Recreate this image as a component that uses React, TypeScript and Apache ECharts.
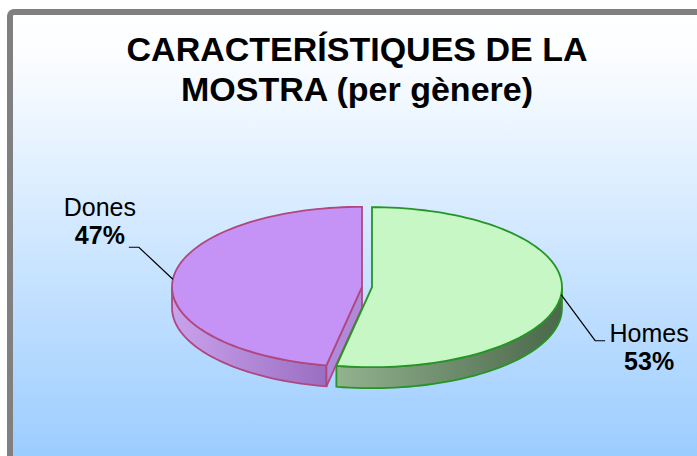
import React, { useEffect, useRef } from "react";
import * as echarts from "echarts";

// ---- data ----
const categories = ["Homes", "Dones"];
const values = [53, 47];
const titleLines = ["CARACTERÍSTIQUES DE LA", "MOSTRA (per gènere)"];

// ---- layout / style ----
const W = 697;
const H = 456;
const CX = 367;
const CY = 287;
const RX = 190;
const RY = 80;
const DEPTH = 21;
const EXPLODE = 5;
const FONT = '"Liberation Sans", Arial, sans-serif';

const topFill = ["#c6f7c4", "#c593f5"];
const edgeColor = ["#269426", "#b04880"];
const wallGrad = [
  ["#93b28e", "#4a684a"],
  ["#c9a2ec", "#9a6ec2"],
];
const faceFill = ["#8fae8a", "#b189da"];

const rad = (d: number) => (d * Math.PI) / 180;
function pt(theta: number, ox: number, oy: number, dz = 0): number[] {
  return [CX + ox + RX * Math.sin(rad(theta)), CY + oy - RY * Math.cos(rad(theta)) + dz];
}
function arc(a: number, b: number, ox: number, oy: number, dz: number): number[][] {
  const n = Math.max(2, Math.ceil((b - a) / 2));
  const pts: number[][] = [];
  for (let i = 0; i <= n; i++) pts.push(pt(a + ((b - a) * i) / n, ox, oy, dz));
  return pts;
}

const total = values.reduce((s, v) => s + v, 0);

function renderItem(params: any) {
  const i = params.dataIndex;
  let start = 0;
  for (let j = 0; j < i; j++) start += (values[j] / total) * 360;
  const end = start + (values[i] / total) * 360;
  const mid = (start + end) / 2;
  const ox = EXPLODE * Math.sin(rad(mid));
  const oy = -EXPLODE * Math.cos(rad(mid)) * (RY / RX);
  const c = [CX + ox, CY + oy];
  const children: any[] = [];

  // outer wall (front half only)
  const a = Math.max(start, 90);
  const b = Math.min(end, 270);
  if (b > a) {
    const topArc = arc(a, b, ox, oy, 0);
    const botArc = arc(a, b, ox, oy, DEPTH).reverse();
    children.push({
      type: "polygon",
      z2: 1,
      shape: { points: [...topArc, ...botArc] },
      style: {
        fill: new echarts.graphic.LinearGradient(0, 0, 1, 0, [
          { offset: 0, color: wallGrad[i][0] },
          { offset: 1, color: wallGrad[i][1] },
        ]),
        stroke: edgeColor[i],
        lineWidth: 1.8,
      },
    });
  }
  // radial faces
  const face = (th: number) => {
    const p = pt(th, ox, oy);
    return {
      type: "polygon",
      z2: 1,
      shape: { points: [c, p, [p[0], p[1] + DEPTH], [c[0], c[1] + DEPTH]] },
      style: { fill: faceFill[i], stroke: edgeColor[i], lineWidth: 1.8 },
    };
  };
  if (Math.sin(rad(start)) < -1e-6) children.push(face(start));
  if (Math.sin(rad(end)) > 1e-6) children.push(face(end));

  // top
  children.push({
    type: "polygon",
    z2: 2,
    shape: { points: [c, ...arc(start, end, ox, oy, 0)] },
    style: { fill: topFill[i], stroke: edgeColor[i], lineWidth: 1.8 },
  });

  // label + leader line
  const p0 = pt(mid, ox, oy);
  const sx = Math.sin(rad(mid)) >= 0 ? 1 : -1;
  const down = Math.cos(rad(mid)) < 0;
  const p1 = [p0[0] + sx * 34, p0[1] + (down ? 46 : -32)];
  const p2 = [p1[0] + sx * 10, p1[1]];
  children.push({
    type: "polyline",
    z2: 3,
    shape: { points: [p0, p1, p2] },
    style: { stroke: "#000", lineWidth: 1.2, fill: null },
  });
  const tx = sx > 0 ? p2[0] + 44 : p2[0] - 29;
  const y1 = sx > 0 ? p2[1] - 8 : p2[1] - 40;
  const pct = Math.round((values[i] / total) * 100) + "%";
  children.push({
    type: "text",
    z2: 3,
    x: tx,
    y: y1,
    style: {
      text: categories[i],
      fill: "#000",
      fontSize: 25,
      fontFamily: FONT,
      align: "center",
      verticalAlign: "middle",
    },
  });
  children.push({
    type: "text",
    z2: 3,
    x: tx,
    y: y1 + 28,
    style: {
      text: pct,
      fill: "#000",
      fontSize: 25,
      fontWeight: "bold",
      fontFamily: FONT,
      align: "center",
      verticalAlign: "middle",
    },
  });
  return { type: "group", children };
}

export default function App() {
  const ref = useRef<HTMLDivElement>(null);
  useEffect(() => {
    if (!ref.current) return;
    const chart = echarts.init(ref.current, null, { renderer: "svg" });
    chart.setOption({
      animation: false,
      graphic: [
        {
          type: "rect",
          z: -10,
          silent: true,
          shape: { x: 10, y: 12, width: 700, height: 460, r: 4 },
          style: {
            fill: new echarts.graphic.LinearGradient(0, 0, 0, 1, [
              { offset: 0, color: "#ffffff" },
              { offset: 0.1, color: "#fbfdff" },
              { offset: 1, color: "#98cbff" },
            ]),
            stroke: "#808080",
            lineWidth: 6,
          },
        },
        {
          type: "text",
          z: 5,
          x: 357,
          y: 29,
          style: {
            text: titleLines.join("\n"),
            fill: "#000",
            fontSize: 34,
            fontWeight: "bold",
            fontFamily: FONT,
            lineHeight: 40,
            align: "center",
            verticalAlign: "top",
          },
        },
      ],
      series: [
        {
          type: "custom",
          coordinateSystem: "none",
          renderItem,
          data: values.map((v, k) => ({ value: v, name: categories[k] })),
        },
      ],
    });
    return () => chart.dispose();
  }, []);
  return (
    <div
      ref={ref}
      style={{ position: "fixed", left: 0, top: 0, width: W, height: H, background: "#fff" }}
    />
  );
}
